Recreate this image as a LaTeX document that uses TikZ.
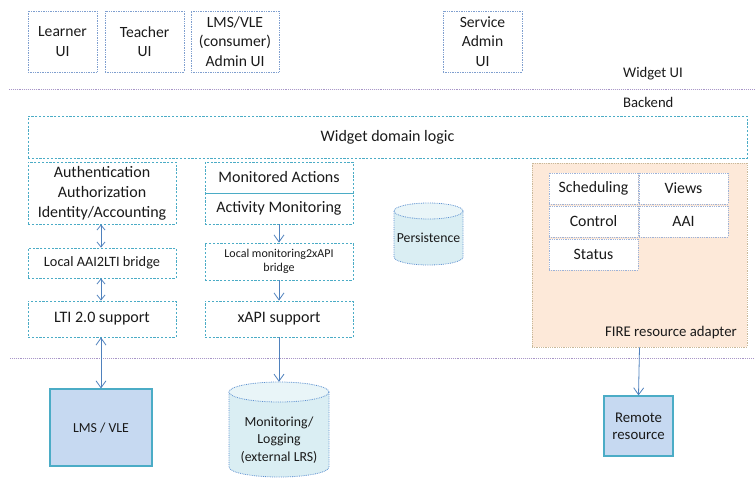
\documentclass[tikz,border=0pt]{standalone}
\usepackage{fontspec}
\setmainfont{Carlito}
\usetikzlibrary{arrows.meta,calc}
\definecolor{dashc}{HTML}{4BACC6}
\definecolor{uic}{HTML}{7F9FCF}
\definecolor{sepc}{HTML}{A896C8}
\definecolor{arrc}{HTML}{4F81BD}
\definecolor{cylfill}{HTML}{DAEEF3}
\definecolor{cylline}{HTML}{5B8FD0}
\definecolor{lmsfill}{HTML}{C6D9F1}
\definecolor{lmsline}{HTML}{4BACC6}
\definecolor{firefill}{HTML}{FDE9D9}
\definecolor{fireline}{HTML}{C9B99A}
\definecolor{innerline}{HTML}{9DB3D9}
\definecolor{txt}{HTML}{1A1A1A}
\tikzset{
  base/.style={inner sep=0pt, align=center, text=txt},
  uibox/.style={base, draw=uic, densely dotted, line width=0.7pt, font=\fontsize{15.6}{19.5}\selectfont},
  dbox/.style={base, draw=dashc, dash pattern=on 2.2pt off 1.6pt, line width=0.8pt, font=\fontsize{16}{20}\selectfont},
  inbox/.style={base, draw=innerline, fill=white, densely dotted, line width=0.8pt, font=\fontsize{15.8}{19}\selectfont},
  extbox/.style={base, draw=lmsline, fill=lmsfill, line width=1.1pt},
  sep/.style={draw=sepc, densely dotted, line width=0.9pt},
  arr/.style={draw=arrc, line width=0.8pt, -{Straight Barb[length=7pt,width=10pt]}},
  darr/.style={draw=arrc, line width=0.8pt, {Straight Barb[length=5pt,width=8pt]}-{Straight Barb[length=5pt,width=8pt]}},
  darrb/.style={draw=arrc, line width=0.8pt, {Straight Barb[length=7pt,width=10pt]}-{Straight Barb[length=7pt,width=10pt]}},
  plain/.style={base},
}
\begin{document}
\begin{tikzpicture}[x=1pt,y=1pt]
\useasboundingbox (0,0) rectangle (755,-479);
% UI boxes
\node[uibox, minimum width=69, minimum height=61] (learner) at (62.5,-41.5) {Learner\\UI};
\node[uibox, minimum width=79, minimum height=61] (teacher) at (144.5,-41.5) {Teacher\\UI};
\node[uibox, minimum width=88, minimum height=61] (lmsadmin) at (235,-41.5) {LMS/VLE\\(consumer)\\Admin UI};
\node[uibox, minimum width=79, minimum height=61] (srvadmin) at (482.5,-41.5) {Service\\Admin\\UI};
\node[plain, anchor=west, font=\fontsize{14.7}{17}\selectfont] (widgetui) at (623,-74) {Widget UI};
\node[plain, anchor=west, font=\fontsize{14.7}{17}\selectfont] (backend) at (623,-102) {Backend};
% separators
\coordinate (s1a) at (9,-89);
\coordinate (s1b) at (755,-89);
\coordinate (s2a) at (10,-358);
\coordinate (s2b) at (753,-358);
\draw[sep] (s1a) -- (s1b);
\draw[sep] (s2a) -- (s2b);
% domain logic
\node[dbox, minimum width=719, minimum height=42] (domain) at (387.5,-137) {Widget domain logic};
% left column
\node[dbox, minimum width=148, minimum height=62] (auth) at (102,-193) {Authentication\\Authorization\\Identity/Accounting};
\node[dbox, minimum width=148, minimum height=30, font=\fontsize{14.3}{16}\selectfont] (aaibr) at (102,-263) {Local AAI2LTI bridge};
\node[dbox, minimum width=148, minimum height=36] (lti) at (102,-319) {LTI 2.0 support};
% middle column
\node[dbox, minimum width=148, minimum height=31] (monact) at (279,-177.5) {Monitored Actions};
\node[dbox, minimum width=148, minimum height=31] (actmon) at (279,-208.5) {Activity Monitoring};
\node[dbox, minimum width=148, minimum height=37, font=\fontsize{12}{14}\selectfont] (monbr) at (279,-261.5) {Local monitoring2xAPI\\bridge};
\node[dbox, minimum width=148, minimum height=36] (xapi) at (279,-319) {xAPI support};
% persistence cylinder
\node[plain, minimum width=69, minimum height=62] (pers) at (428.5,-234) {};
\fill[cylfill] (394,-211) -- (394,-257) arc[start angle=180,end angle=360,x radius=34.5,y radius=8] -- (463,-211) arc[start angle=0,end angle=180,x radius=34.5,y radius=8] -- cycle;
\draw[cylline, densely dotted, line width=0.8pt] (394,-211) -- (394,-257) arc[start angle=180,end angle=360,x radius=34.5,y radius=8] -- (463,-211);
\draw[cylline, densely dotted, line width=0.8pt, fill=cylfill!60!white] (428.5,-211) ellipse[x radius=34.5,y radius=8];
\node[plain, font=\fontsize{13.8}{15}\selectfont] (perstext) at (428.5,-238) {Persistence};
% FIRE adapter
\node[base, draw=fireline, fill=firefill, densely dotted, line width=0.8pt, minimum width=215, minimum height=184] (fire) at (639.5,-255) {};
\node[plain, anchor=east, font=\fontsize{14.8}{17}\selectfont] (firelbl) at (737,-333) {FIRE resource adapter};
\node[inbox, minimum width=89, minimum height=31] (sched) at (593.5,-188.5) {Scheduling};
\node[inbox, minimum width=89, minimum height=31] (views) at (683.5,-188.5) {Views};
\node[inbox, minimum width=89, minimum height=31] (control) at (593.5,-221.5) {Control};
\node[inbox, minimum width=89, minimum height=31] (aai) at (683.5,-221.5) {AAI};
\node[inbox, minimum width=89, minimum height=31] (status) at (593.5,-254.5) {Status};
% external
\node[extbox, minimum width=102, minimum height=77, font=\fontsize{13.8}{16}\selectfont] (lms) at (101,-427.5) {LMS / VLE};
\node[extbox, minimum width=69, minimum height=60, font=\fontsize{14.8}{17}\selectfont] (remote) at (638.5,-426) {Remote\\resource};
% monitoring cylinder
\node[plain, minimum width=100, minimum height=95] (mlog) at (279,-429.5) {};
\fill[cylfill] (229,-392) -- (229,-467) arc[start angle=180,end angle=360,x radius=50,y radius=10] -- (329,-392) arc[start angle=0,end angle=180,x radius=50,y radius=10] -- cycle;
\draw[cylline, densely dotted, line width=0.8pt] (229,-392) -- (229,-467) arc[start angle=180,end angle=360,x radius=50,y radius=10] -- (329,-392);
\draw[cylline, densely dotted, line width=0.8pt, fill=cylfill!60!white] (279,-392) ellipse[x radius=50,y radius=10];
\node[plain, font=\fontsize{13.8}{17.5}\selectfont] (mlogtext) at (279,-440) {Monitoring/\\Logging\\(external LRS)};
% connectors
\draw[darr] ([xshift=-1pt]auth.south) -- ([xshift=-1pt]aaibr.north);
\draw[darr] ([xshift=-1pt]aaibr.south) -- ([xshift=-1pt]lti.north);
\draw[darrb] ([xshift=-1pt]lti.south) -- (lms.north);
\draw[arr] (actmon.south) -- (monbr.north);
\draw[arr] (monbr.south) -- (xapi.north);
\draw[arr] (xapi.south) -- (mlog.north);
\draw[arr] (fire.south) -- (remote.north);
\end{tikzpicture}
\end{document}
